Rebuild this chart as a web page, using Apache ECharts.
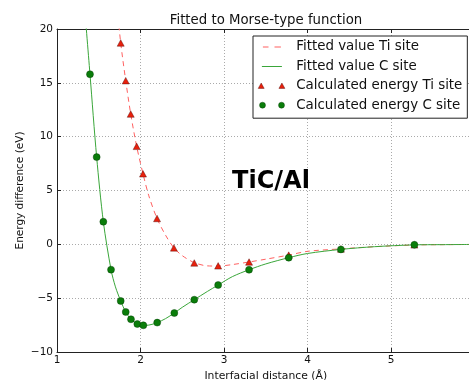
<!DOCTYPE html>
<html>
<head>
<meta charset="utf-8">
<script src="https://cdn.jsdelivr.net/npm/echarts@6/dist/echarts.min.js"></script>
<style>
html, body { margin: 0; padding: 0; background: #fff; }
#chart { width: 469px; height: 380px; }
</style>
</head>
<body>
<div id="chart"></div>
<script>
// 计算值 Ti site (三角)
const tiCalcX = [1.763, 1.823, 1.883, 1.954, 2.03, 2.198, 2.40, 2.644, 2.93, 3.30, 3.775, 4.40, 5.28]
const tiCalcY = [18.7, 15.2, 12.1, 9.1, 6.55, 2.4, -0.33, -1.73, -2.0, -1.64, -1.0, -0.43, -0.05]

// 计算值 C site (圆点)
const cCalcX = [1.395, 1.475, 1.555, 1.647, 1.763, 1.823, 1.886, 1.962, 2.034, 2.20, 2.405, 2.644, 2.93, 3.30, 3.775, 4.40, 5.28]
const cCalcY = [15.8, 8.1, 2.1, -2.35, -5.26, -6.28, -6.96, -7.4, -7.52, -7.27, -6.38, -5.14, -3.78, -2.36, -1.24, -0.47, -0.04]

// 拟合曲线 Ti site (虚线)
const tiFitX = [1.72, 1.763, 1.823, 1.883, 1.954, 2.03, 2.1, 2.198, 2.3, 2.4, 2.5, 2.644, 2.8, 2.93, 3.1, 3.3, 3.5, 3.775, 4.0, 4.4, 4.8, 5.28, 5.6, 6.0]
const tiFitY = [22, 18.7, 15.2, 12.1, 9.1, 6.55, 4.5, 2.4, 0.85, -0.33, -1.05, -1.7, -2.0, -2.02, -1.88, -1.64, -1.38, -1.0, -0.65, -0.42, -0.22, -0.06, -0.03, -0.01]

// 拟合曲线 C site (实线)
const cFitX = [1.33, 1.395, 1.475, 1.555, 1.647, 1.7, 1.763, 1.823, 1.886, 1.962, 2.034, 2.1, 2.2, 2.3, 2.405, 2.5, 2.644, 2.8, 2.93, 3.1, 3.3, 3.5, 3.775, 4.0, 4.4, 4.8, 5.28, 5.6, 6.0]
const cFitY = [22, 15.8, 8.1, 2.1, -2.35, -3.95, -5.26, -6.28, -6.96, -7.4, -7.52, -7.5, -7.27, -6.9, -6.38, -5.85, -5.14, -4.38, -3.78, -3.0, -2.36, -1.82, -1.24, -0.85, -0.47, -0.22, -0.05, -0.03, -0.01]

const legendNames = ['Fitted value Ti site', 'Fitted value C site', 'Calculated energy Ti site', 'Calculated energy C site']

const pairs = (xs, ys) => xs.map((x, i) => [x, ys[i]])
const minus = v => String(v).replace('-', '\u2212')

const FONT = 'DejaVu Sans'
// 图例图标: 两端的小三角让路径包围盒撑满 34x10
const box = 'M0,0l0.01,0l0,0.01z M34,10l-0.01,0l0,-0.01z '

let myChart = echarts.init(document.getElementById('chart'), null, { renderer: 'canvas' })

let options = {
  animation: false,
  backgroundColor: '#fff',
  title: [
    {
      text: 'Fitted to Morse-type function',
      left: 266,
      top: 14,
      textAlign: 'center',
      padding: 0,
      textStyle: { fontFamily: FONT, fontSize: 13.3, fontWeight: 'normal', color: '#111' }
    },
    {
      text: 'TiC/Al',
      left: 271,
      top: 170,
      textAlign: 'center',
      padding: 0,
      textStyle: { fontFamily: FONT, fontSize: 24, fontWeight: 'bold', color: '#000' }
    }
  ],
  legend: {
    orient: 'vertical',
    left: 253,
    top: 36,
    padding: [4, 5, 6, 4],
    itemWidth: 34,
    itemHeight: 10,
    itemGap: 5.4,
    selectedMode: false,
    backgroundColor: '#fff',
    borderColor: '#222',
    borderWidth: 1,
    textStyle: { fontFamily: FONT, fontSize: 13.4, color: '#111', lineHeight: 14 },
    data: [
      {
        name: legendNames[0],
        icon: 'path://' + box + 'M5.7,4.5h5.6v1h-5.6z M17.3,4.5h6.4v1h-6.4z',
        itemStyle: { color: '#ff6060', borderWidth: 0 }
      },
      {
        name: legendNames[1],
        icon: 'path://' + box + 'M4.7,4.5h20v1h-20z',
        itemStyle: { color: '#3aa63a', borderWidth: 0 }
      },
      {
        name: legendNames[2],
        icon: 'path://' + box + 'M4,2.2l3,5.4h-6z M24.7,2.2l3,5.4h-6z',
        itemStyle: { color: '#e8200c', borderColor: '#400', borderWidth: 0.4 }
      },
      {
        name: legendNames[3],
        icon: 'path://' + box + 'M5.3,2a3,3 0 1,0 0.01,0z M24.3,2a3,3 0 1,0 0.01,0z',
        itemStyle: { color: '#0a7d0a', borderColor: '#030', borderWidth: 0.4 }
      }
    ]
  },
  grid: {
    left: 57,
    top: 29,
    right: -5.5,
    bottom: 28,
    containLabel: false,
    outerBoundsMode: 'none'
  },
  xAxis: [
    {
      type: 'value',
      min: 1,
      max: 6,
      interval: 1,
      name: 'Interfacial distance (Å)',
      nameLocation: 'middle',
      nameGap: 19,
      nameMoveOverlap: false,
      nameTextStyle: { fontFamily: FONT, fontSize: 10.8, color: '#111' },
      axisLine: { show: true, onZero: false, lineStyle: { color: '#222', width: 1 } },
      axisTick: { show: true, inside: true, length: 4, lineStyle: { color: '#222' } },
      axisLabel: { fontFamily: FONT, fontSize: 10.5, color: '#111', margin: 3, formatter: minus },
      splitLine: { show: true, lineStyle: { color: '#aaa', width: 1, type: [1, 2] } }
    },
    {
      type: 'value',
      position: 'top',
      min: 1,
      max: 6,
      interval: 1,
      axisLine: { show: true, onZero: false, lineStyle: { color: '#222', width: 1 } },
      axisTick: { show: true, inside: true, length: 4, lineStyle: { color: '#222' } },
      axisLabel: { show: false },
      splitLine: { show: false }
    }
  ],
  yAxis: {
    type: 'value',
    min: -10,
    max: 20,
    interval: 5,
    name: 'Energy difference (eV)',
    nameLocation: 'middle',
    nameGap: 31,
    nameMoveOverlap: false,
    nameTextStyle: { fontFamily: FONT, fontSize: 10.5, color: '#111' },
    axisLine: { show: true, onZero: false, lineStyle: { color: '#222', width: 1 } },
    axisTick: { show: true, inside: true, length: 4, lineStyle: { color: '#222' } },
    axisLabel: { fontFamily: FONT, fontSize: 10.5, color: '#111', margin: 4, formatter: minus },
    splitLine: { show: true, lineStyle: { color: '#aaa', width: 1, type: [1, 2] } }
  },
  series: [
    {
      name: legendNames[0],
      type: 'line',
      data: pairs(tiFitX, tiFitY),
      showSymbol: false,
      symbol: 'none',
      smooth: 0.3,
      color: '#ff6060',
      lineStyle: { color: '#ff6060', width: 1, type: [5, 4] },
      z: 2
    },
    {
      name: legendNames[1],
      type: 'line',
      data: pairs(cFitX, cFitY),
      showSymbol: false,
      symbol: 'none',
      smooth: 0.3,
      color: '#3aa63a',
      lineStyle: { color: '#3aa63a', width: 1 },
      z: 2
    },
    {
      name: legendNames[2],
      type: 'scatter',
      data: pairs(tiCalcX, tiCalcY),
      symbol: 'triangle',
      symbolSize: [7, 6.5],
      itemStyle: { color: '#e8200c', borderColor: '#400', borderWidth: 0.4, opacity: 1 },
      z: 3
    },
    {
      name: legendNames[3],
      type: 'scatter',
      data: pairs(cCalcX, cCalcY),
      symbol: 'circle',
      symbolSize: 7,
      itemStyle: { color: '#0a7d0a', borderColor: '#030', borderWidth: 0.4, opacity: 1 },
      z: 4
    }
  ]
}

myChart.setOption(options)
</script>
</body>
</html>
